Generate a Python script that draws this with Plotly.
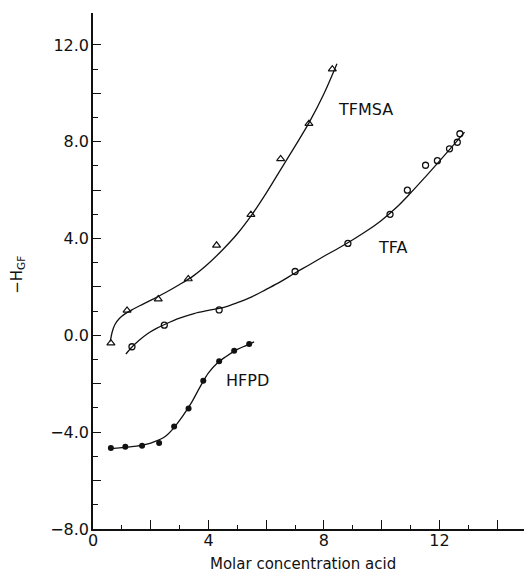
import plotly.graph_objects as go

# ---- data ----
# measured points
tfmsa_x = [0.62, 1.18, 2.26, 3.30, 4.28, 5.47, 6.50, 7.48, 8.29]
tfmsa_y = [-0.32, 1.03, 1.50, 2.33, 3.72, 4.99, 7.29, 8.75, 11.00]

tfa_x = [1.35, 2.47, 4.37, 7.00, 8.83, 10.29, 10.89, 11.52, 11.93, 12.35, 12.62, 12.71]
tfa_y = [-0.47, 0.42, 1.05, 2.64, 3.80, 5.00, 6.00, 7.03, 7.22, 7.71, 7.98, 8.33]

hfpd_x = [0.62, 1.12, 1.70, 2.29, 2.81, 3.31, 3.82, 4.37, 4.89, 5.41]
hfpd_y = [-4.65, -4.60, -4.56, -4.45, -3.76, -3.02, -1.87, -1.07, -0.63, -0.36]

# drawn (smoothed) curves
tfmsa_cx = [0.60, 0.66, 0.76, 0.92, 1.12, 1.40, 1.75, 2.10, 2.50, 3.00, 3.50, 4.00, 4.50, 5.00, 5.50, 6.00, 6.50, 7.00, 7.50, 8.00, 8.45]
tfmsa_cy = [-0.25, 0.12, 0.45, 0.71, 0.90, 1.09, 1.30, 1.51, 1.76, 2.10, 2.48, 2.97, 3.55, 4.20, 4.98, 5.88, 6.85, 7.82, 8.82, 9.98, 11.22]

tfa_cx = [1.14, 1.35, 1.60, 1.90, 2.20, 2.50, 3.00, 3.50, 4.00, 4.50, 5.00, 5.50, 6.00, 6.50, 7.00, 7.50, 8.00, 8.50, 9.00, 9.50, 10.00, 10.50, 11.00, 11.50, 12.00, 12.50, 12.87]
tfa_cy = [-0.77, -0.48, -0.20, 0.08, 0.29, 0.46, 0.71, 0.90, 1.03, 1.15, 1.35, 1.59, 1.90, 2.22, 2.58, 2.92, 3.27, 3.60, 3.95, 4.33, 4.76, 5.27, 5.88, 6.53, 7.20, 7.88, 8.40]

hfpd_cx = [0.59, 1.00, 1.50, 2.00, 2.50, 2.80, 3.10, 3.40, 3.70, 4.00, 4.30, 4.60, 5.00, 5.30, 5.58]
hfpd_cy = [-4.68, -4.64, -4.58, -4.45, -4.18, -3.82, -3.35, -2.80, -2.15, -1.55, -1.15, -0.88, -0.58, -0.42, -0.27]

# ticks
x_tickvals = [0, 2, 4, 6, 8, 10, 12, 14]
x_ticktext = ["0", "", "4", "", "8", "", "12", ""]
x_minor = [1, 3, 5, 7, 9, 11, 13]
y_tickvals = [-8, -6, -4, -2, 0, 2, 4, 6, 8, 10, 12]
y_ticktext = ["\u22128.0", "", "\u22124.0", "", "0.0", "", "4.0", "", "8.0", "", "12.0"]
y_minor = [-7, -5, -3, -1, 1, 3, 5, 7, 9, 11]

# curve labels
label_text = ["TFMSA", "TFA", "HFPD"]
label_x = [9.43, 10.38, 5.36]
label_y = [9.33, 3.64, -1.87]

FONT = "DejaVu Sans"
BLACK = "#111111"

fig = go.Figure()

for cx, cy in [(tfmsa_cx, tfmsa_cy), (tfa_cx, tfa_cy), (hfpd_cx, hfpd_cy)]:
    fig.add_trace(go.Scatter(x=cx, y=cy, mode="lines", line=dict(color=BLACK, width=1.3, shape="spline", smoothing=1.0),
                             hoverinfo="skip", showlegend=False))

fig.add_trace(go.Scatter(x=tfmsa_x, y=tfmsa_y, mode="markers", name="TFMSA",
                         marker=dict(symbol="triangle-up-open", size=7, color=BLACK, line=dict(width=1.2)), showlegend=False))
fig.add_trace(go.Scatter(x=tfa_x, y=tfa_y, mode="markers", name="TFA",
                         marker=dict(symbol="circle-open", size=6, color=BLACK, line=dict(width=1.3)), showlegend=False))
fig.add_trace(go.Scatter(x=hfpd_x, y=hfpd_y, mode="markers", name="HFPD",
                         marker=dict(symbol="circle", size=6, color=BLACK), showlegend=False))

for t, x, y in zip(label_text, label_x, label_y):
    fig.add_annotation(x=x, y=y, text=t, showarrow=False, xanchor="center", yanchor="middle",
                       font=dict(family=FONT, size=16, color=BLACK))

# axis titles
fig.add_annotation(xref="paper", yref="paper", x=0.488, y=-0.067, text="Molar concentration acid",
                   showarrow=False, xanchor="center", yanchor="middle",
                   font=dict(family=FONT, size=15, color=BLACK))
fig.add_annotation(xref="paper", yref="paper", x=-0.176, y=0.493, text="\u2212H<sub>GF</sub>",
                   showarrow=False, xanchor="center", yanchor="middle", textangle=-90,
                   font=dict(family=FONT, size=15, color=BLACK))

fig.update_xaxes(range=[0, 14.93], showline=True, linecolor=BLACK, linewidth=1.5, showgrid=False, zeroline=False,
                 tickmode="array", tickvals=x_tickvals, ticktext=x_ticktext, ticks="inside", ticklen=9,
                 tickwidth=1.3, tickcolor=BLACK, ticklabelstandoff=-4,
                 tickfont=dict(family=FONT, size=16, color=BLACK),
                 minor=dict(tickmode="array", tickvals=x_minor, ticks="inside", ticklen=4, tickwidth=1.2,
                            tickcolor=BLACK, showgrid=False))
fig.update_yaxes(range=[-8, 13.32], showline=True, linecolor=BLACK, linewidth=1.5, showgrid=False, zeroline=False,
                 tickmode="array", tickvals=y_tickvals, ticktext=y_ticktext, ticks="inside", ticklen=8,
                 tickwidth=1.3, tickcolor=BLACK, ticklabelstandoff=-1,
                 tickfont=dict(family=FONT, size=16, color=BLACK),
                 minor=dict(tickmode="array", tickvals=y_minor, ticks="inside", ticklen=5, tickwidth=1.2,
                            tickcolor=BLACK, showgrid=False))

fig.update_layout(width=524, height=572, margin=dict(l=93, r=0, t=13, b=43),
                  plot_bgcolor="white", paper_bgcolor="white", showlegend=False)

fig.write_html("out.html", config={"displayModeBar": False})
